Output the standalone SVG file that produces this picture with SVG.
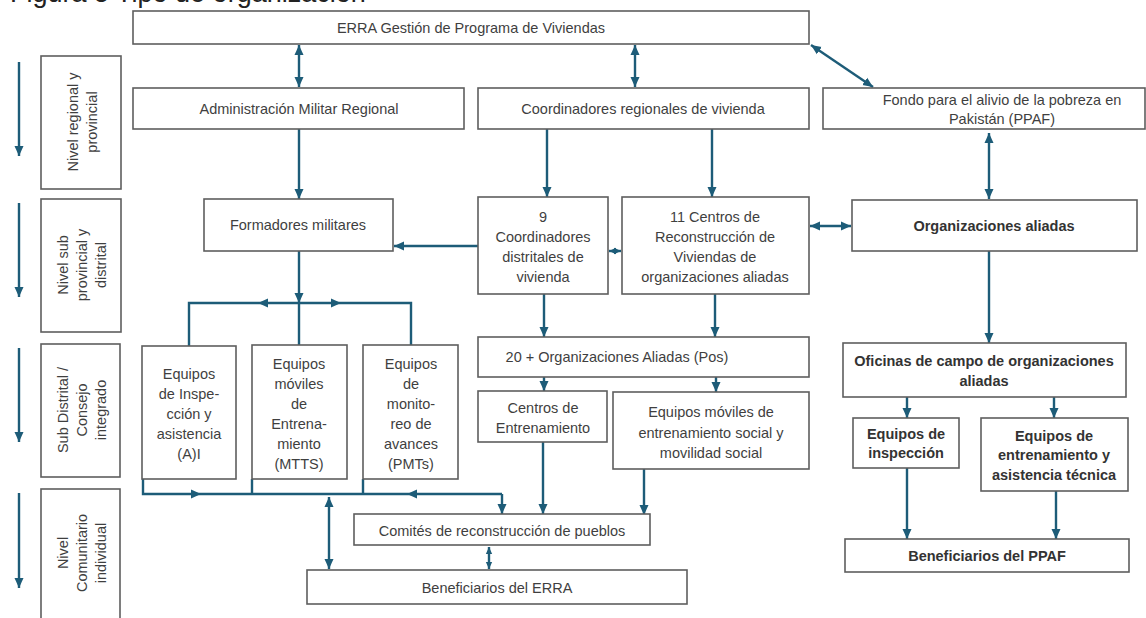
<svg xmlns="http://www.w3.org/2000/svg" width="1146" height="618" viewBox="0 0 1146 618">
<defs>
<marker id="ah" viewBox="0 0 10 10" refX="10" refY="5" markerWidth="10" markerHeight="10" markerUnits="userSpaceOnUse" orient="auto-start-reverse">
<path d="M0,0.5 L10,5 L0,9.5 z" fill="#1d5c78"/>
</marker>
<marker id="ahs" viewBox="0 0 10 10" refX="10" refY="5" markerWidth="7" markerHeight="8" markerUnits="userSpaceOnUse" orient="auto-start-reverse">
<path d="M0,0.5 L10,5 L0,9.5 z" fill="#1d5c78"/>
</marker>
<style>
.bx{fill:#ffffff;stroke:#5e5e5e;stroke-width:1.6}
.t{font-family:"Liberation Sans",Arial,sans-serif;font-size:14.5px;fill:#3f3f3f;text-anchor:middle;dominant-baseline:central}
.b{font-weight:bold;fill:#333333}
.c{fill:none;stroke:#1d5c78;stroke-width:2.4}
.a{marker-end:url(#ah)}
.d{marker-start:url(#ah);marker-end:url(#ah)}
.ds{marker-start:url(#ahs);marker-end:url(#ahs)}
</style>
</defs>
<rect width="1146" height="618" fill="#ffffff"/>
<text x="10" y="2" font-family="Liberation Sans,Arial,sans-serif" font-size="27" fill="#222222">Figura 5 Tipo de organización</text>

<g id="levels">
<line class="c a" x1="19" y1="62" x2="19" y2="156"/>
<line class="c a" x1="19" y1="203" x2="19" y2="297"/>
<line class="c a" x1="19" y1="348" x2="19" y2="442"/>
<line class="c a" x1="19" y1="493" x2="19" y2="588"/>
</g>
<g id="level1">
<rect class="bx" x="41" y="56" width="80" height="133"/>
<text class="t" transform="translate(73,122) rotate(-90)">Nivel regional y</text>
<text class="t" transform="translate(92,122) rotate(-90)">provincial</text>
</g>
<g id="level2">
<rect class="bx" x="41" y="199" width="80" height="133"/>
<text class="t" transform="translate(63,265) rotate(-90)">Nivel sub</text>
<text class="t" transform="translate(82,265) rotate(-90)">provincial y</text>
<text class="t" transform="translate(101,265) rotate(-90)">distrital</text>
</g>
<g id="level3">
<rect class="bx" x="41" y="344" width="79" height="133"/>
<text class="t" transform="translate(63,410) rotate(-90)">Sub Distrital /</text>
<text class="t" transform="translate(82,410) rotate(-90)">Consejo</text>
<text class="t" transform="translate(101,410) rotate(-90)">integrado</text>
</g>
<g id="level4">
<rect class="bx" x="41" y="489" width="79" height="140"/>
<text class="t" transform="translate(63,553) rotate(-90)">Nivel</text>
<text class="t" transform="translate(82,553) rotate(-90)">Comunitario</text>
<text class="t" transform="translate(101,553) rotate(-90)">individual</text>
</g>

<g id="connectors">
<line class="c d" x1="299" y1="45" x2="299" y2="87"/>
<line class="c d" x1="635" y1="45" x2="635" y2="87"/>
<line class="c d" x1="811" y1="45" x2="873" y2="87"/>
<line class="c d" x1="989" y1="133" x2="989" y2="199"/>
<line class="c a" x1="299" y1="129" x2="299" y2="199"/>
<line class="c a" x1="547" y1="129" x2="547" y2="197"/>
<line class="c a" x1="712" y1="129" x2="712" y2="197"/>
<line class="c ds" x1="609" y1="251" x2="621" y2="251"/>
<line class="c a" x1="478" y1="246" x2="394" y2="246"/>
<line class="c d" x1="810" y1="226" x2="851" y2="226"/>
<line class="c a" x1="989" y1="251" x2="989" y2="343"/>
<line class="c a" x1="544" y1="294" x2="544" y2="337"/>
<line class="c a" x1="715" y1="294" x2="715" y2="337"/>
<line class="c a" x1="544" y1="377" x2="544" y2="391"/>
<line class="c a" x1="716" y1="377" x2="716" y2="392"/>
<line class="c a" x1="907" y1="397" x2="907" y2="418"/>
<line class="c a" x1="1054" y1="397" x2="1054" y2="418"/>
<line class="c a" x1="907" y1="468" x2="907" y2="539"/>
<line class="c a" x1="1056" y1="491" x2="1056" y2="539"/>
<line class="c a" x1="299" y1="251" x2="299" y2="303"/>
<line class="c" x1="299" y1="303" x2="299" y2="345"/>
<line class="c a" x1="299" y1="303" x2="258" y2="303"/>
<line class="c a" x1="299" y1="303" x2="341" y2="303"/>
<path class="c" d="M258,303 L189,303 L189,346"/>
<path class="c" d="M341,303 L411,303 L411,345"/>
<path class="c a" d="M143,479 L143,494 L201,494"/>
<line class="c" x1="201" y1="494" x2="407" y2="494"/>
<line class="c a" x1="502" y1="494" x2="407" y2="494"/>
<line class="c a" x1="502" y1="494" x2="502" y2="514"/>
<line class="c" x1="252" y1="479" x2="252" y2="494"/>
<line class="c" x1="363" y1="479" x2="363" y2="494"/>
<line class="c d" x1="329" y1="497" x2="329" y2="569"/>
<line class="c a" x1="543" y1="442" x2="543" y2="514"/>
<line class="c a" x1="644" y1="469" x2="644" y2="515"/>
<line class="c ds" x1="489" y1="547" x2="489" y2="569"/>
</g>

<g id="erra">
<rect class="bx" x="133" y="11" width="676" height="33"/>
<text class="t" x="471" y="28">ERRA Gestión de Programa de Viviendas</text>
</g>
<g id="admin">
<rect class="bx" x="133" y="88" width="331" height="41"/>
<text class="t" x="299" y="109">Administración Militar Regional</text>
</g>
<g id="coordreg">
<rect class="bx" x="478" y="88" width="331" height="41"/>
<text class="t" x="643" y="109">Coordinadores regionales de vivienda</text>
</g>
<g id="ppaf">
<rect class="bx" x="823" y="88" width="322" height="41"/>
<text class="t" x="1002" y="100">Fondo para el alivio de la pobreza en</text>
<text class="t" x="1002" y="119">Pakistán (PPAF)</text>
</g>
<g id="formadores">
<rect class="bx" x="204" y="199" width="189" height="52"/>
<text class="t" x="298" y="225">Formadores militares</text>
</g>
<g id="coorddist">
<rect class="bx" x="478" y="197" width="130" height="97"/>
<text class="t" x="543" y="217">9</text>
<text class="t" x="543" y="237">Coordinadores</text>
<text class="t" x="543" y="257">distritales de</text>
<text class="t" x="543" y="277">vivienda</text>
</g>
<g id="centros11">
<rect class="bx" x="622" y="197" width="187" height="97"/>
<text class="t" x="715" y="217">11 Centros de</text>
<text class="t" x="715" y="237">Reconstrucción de</text>
<text class="t" x="715" y="257">Viviendas de</text>
<text class="t" x="715" y="277">organizaciones aliadas</text>
</g>
<g id="orgaliadas">
<rect class="bx" x="852" y="200" width="285" height="51"/>
<text class="t b" x="994" y="226">Organizaciones aliadas</text>
</g>
<g id="equiposA">
<rect class="bx" x="142" y="346" width="94" height="133"/>
<text class="t" x="189" y="374">Equipos</text>
<text class="t" x="189" y="394">de Inspe-</text>
<text class="t" x="189" y="414">cción y</text>
<text class="t" x="189" y="434">asistencia</text>
<text class="t" x="189" y="454">(A)I</text>
</g>
<g id="equiposB">
<rect class="bx" x="252" y="345" width="95" height="134"/>
<text class="t" x="299" y="364">Equipos</text>
<text class="t" x="299" y="384">móviles</text>
<text class="t" x="299" y="404">de</text>
<text class="t" x="299" y="424">Entrena-</text>
<text class="t" x="299" y="444">miento</text>
<text class="t" x="299" y="464">(MTTS)</text>
</g>
<g id="equiposC">
<rect class="bx" x="363" y="345" width="95" height="134"/>
<text class="t" x="411" y="364">Equipos</text>
<text class="t" x="411" y="384">de</text>
<text class="t" x="411" y="404">monito-</text>
<text class="t" x="411" y="424">reo de</text>
<text class="t" x="411" y="444">avances</text>
<text class="t" x="411" y="464">(PMTs)</text>
</g>
<g id="org20">
<rect class="bx" x="478" y="337" width="331" height="40"/>
<text class="t" x="617" y="357">20 + Organizaciones Aliadas (Pos)</text>
</g>
<g id="centrosentr">
<rect class="bx" x="478" y="391" width="129" height="51"/>
<text class="t" x="543" y="408">Centros de</text>
<text class="t" x="543" y="428">Entrenamiento</text>
</g>
<g id="equiposmov">
<rect class="bx" x="613" y="392" width="196" height="77"/>
<text class="t" x="711" y="412">Equipos móviles de</text>
<text class="t" x="711" y="433">entrenamiento social y</text>
<text class="t" x="711" y="453">movilidad social</text>
</g>
<g id="oficinas">
<rect class="bx" x="843" y="343" width="283" height="54"/>
<text class="t b" x="984" y="361">Oficinas de campo de organizaciones</text>
<text class="t b" x="984" y="381">aliadas</text>
</g>
<g id="inspeccion">
<rect class="bx" x="853" y="418" width="106" height="50"/>
<text class="t b" x="906" y="434">Equipos de</text>
<text class="t b" x="906" y="453">inspección</text>
</g>
<g id="entrenamiento">
<rect class="bx" x="981" y="418" width="147" height="73"/>
<text class="t b" x="1054" y="436">Equipos de</text>
<text class="t b" x="1054" y="455">entrenamiento y</text>
<text class="t b" x="1054" y="475">asistencia técnica</text>
</g>
<g id="benefppaf">
<rect class="bx" x="845" y="539" width="284" height="33"/>
<text class="t b" x="987" y="556">Beneficiarios del PPAF</text>
</g>
<g id="comites">
<rect class="bx" x="354" y="514" width="296" height="31"/>
<text class="t" x="502" y="531">Comités de reconstrucción de pueblos</text>
</g>
<g id="beneferra">
<rect class="bx" x="307" y="570" width="380" height="34"/>
<text class="t" x="497" y="588">Beneficiarios del ERRA</text>
</g>
</svg>
